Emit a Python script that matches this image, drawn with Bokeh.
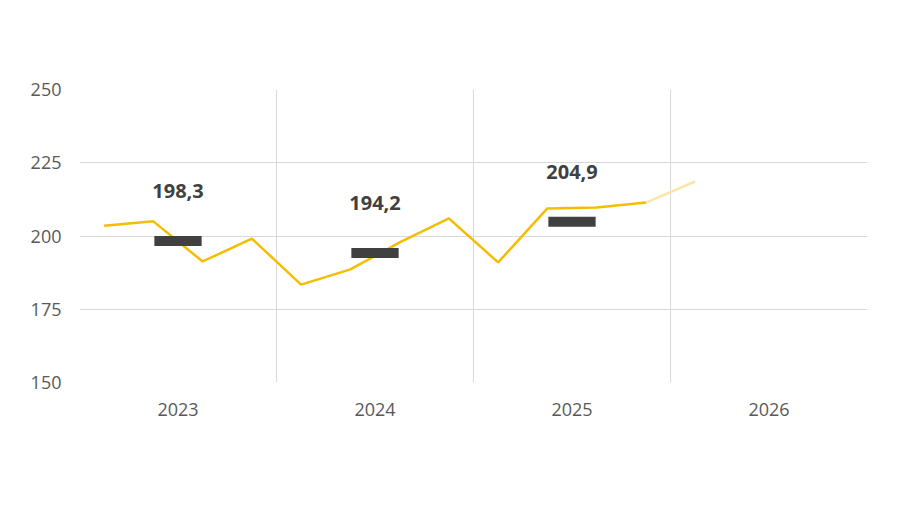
from bokeh.plotting import figure
from bokeh.models import FixedTicker, Label, Legend, LegendItem
from bokeh.embed import file_html
from bokeh.resources import INLINE
from bokeh.core.properties import value

years = ["2023", "2024", "2025", "2026"]
quarter_vals = [203.5, 205.0, 191.3, 199.1, 183.4, 188.6, 197.8, 206.0, 191.0, 209.4, 209.7, 211.4]
forecast_val = 218.6
annual_vals = [198.3, 194.2, 204.9]
annual_labels = ["198,3", "194,2", "204,9"]

FONT = "Open Sans"
qx = [i // 4 + (i % 4) * 0.25 + 0.125 for i in range(len(quarter_vals))]
fx = [qx[-1], 3 + 0.125]
ax = [i + 0.5 for i in range(len(annual_vals))]

p = figure(width=893, height=507, output_backend="svg", toolbar_location=None,
           x_range=(0, 4), y_range=(150, 250),
           min_border_left=79, min_border_right=26, min_border_top=89, min_border_bottom=125)
p.outline_line_color = None
p.xaxis.ticker = FixedTicker(ticks=[0.5, 1.5, 2.5, 3.5])
p.xaxis.major_label_overrides = {0.5: years[0], 1.5: years[1], 2.5: years[2], 3.5: years[3]}
p.xgrid.ticker = FixedTicker(ticks=[0, 1, 2, 3, 4])
p.yaxis.ticker = FixedTicker(ticks=[150, 175, 200, 225, 250])
for a in (p.xaxis, p.yaxis):
    a.axis_line_color = None
    a.major_tick_line_color = None
    a.minor_tick_line_color = None
    a.major_label_text_font = FONT
    a.major_label_text_font_size = "18px"
    a.major_label_text_color = "#595959"
p.xaxis.major_label_standoff = 14
p.yaxis.major_label_standoff = 12
p.grid.grid_line_color = "#d9d9d9"

p.line(fx, [quarter_vals[-1], forecast_val], line_color="#FBE6A8", line_width=2.5)
ln = p.line(qx, quarter_vals, line_color="#F5BD00", line_width=2.5)
rc = p.rect(ax, annual_vals, width=0.24, height=10, height_units="screen",
            fill_color="#404040", line_color=None)
p.text(ax, [v + 17 for v in annual_vals], text=annual_labels,
       text_font=value(FONT), text_font_size="20px", text_font_style="bold",
       text_color="#404040", text_align="center", text_baseline="middle")

p.add_layout(Label(x=446, y=470, x_units="screen", y_units="screen",
                   text="Freistehende Ein- und Zweifamilienhäuser",
                   text_font=FONT, text_font_size="24px", text_font_style="bold",
                   text_color="#595959", text_align="center", text_baseline="middle"))

leg = Legend(items=[LegendItem(label="Index Grundstücksmarktbericht", renderers=[rc]),
                    LegendItem(label="Quartalsindex", renderers=[ln])],
             orientation="horizontal", location=(40, -108), border_line_color=None,
             background_fill_alpha=0,
             label_text_font=FONT, label_text_font_size="19px", label_text_color="#595959",
             spacing=45, glyph_width=30, glyph_height=12, margin=0)
p.add_layout(leg, "center")

open("out.html", "w").write(file_html(p, INLINE))
